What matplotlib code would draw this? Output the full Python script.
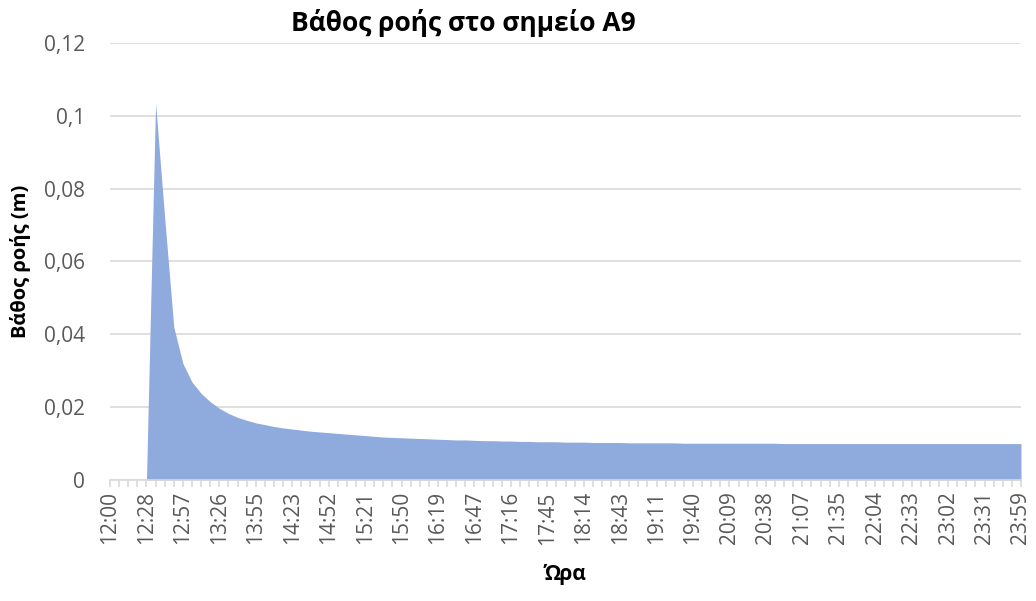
import matplotlib.pyplot as plt
import numpy as np

plt.rcParams['font.family'] = ['Open Sans', 'DejaVu Sans']

# flow depth (m) at point A9, one value every ~7.2 min from 12:00 to 23:59
depth = [0, 0, 0, 0, 0, 0.1035, 0.072, 0.042, 0.032, 0.0269,
         0.0238, 0.0215, 0.0197, 0.0183, 0.0172, 0.0164, 0.0157, 0.0152, 0.0147, 0.0143,
         0.0140, 0.0137, 0.0134, 0.0132, 0.0130, 0.0128, 0.0126, 0.0124, 0.0122, 0.0120,
         0.0118, 0.0117, 0.0116, 0.0115, 0.0114, 0.0113, 0.0112, 0.0111, 0.0110, 0.0110,
         0.0109, 0.0108, 0.0108, 0.0107, 0.0107, 0.0106, 0.0106, 0.0105, 0.0105, 0.0105,
         0.0104, 0.0104, 0.0104, 0.0103, 0.0103, 0.0103, 0.0103, 0.0102, 0.0102, 0.0102,
         0.0102, 0.0102, 0.0102, 0.0101, 0.0101, 0.0101, 0.0101, 0.0101, 0.0101, 0.0101,
         0.0101, 0.0101, 0.0101, 0.0101, 0.0100, 0.0100, 0.0100, 0.0100, 0.0100, 0.0100,
         0.0100, 0.0100, 0.0100, 0.0100, 0.0100, 0.0100, 0.0100, 0.0100, 0.0100, 0.0100,
         0.0100, 0.0100, 0.0100, 0.0100, 0.0100, 0.0100, 0.0100, 0.0100, 0.0100, 0.0100,
         0.0100]

# every 4th time stamp is labelled
time_labels = ['12:00', '12:28', '12:57', '13:26', '13:55', '14:23', '14:52', '15:21',
               '15:50', '16:19', '16:47', '17:16', '17:45', '18:14', '18:43', '19:11',
               '19:40', '20:09', '20:38', '21:07', '21:35', '22:04', '22:33', '23:02',
               '23:31', '23:59']

y_ticks = [0, 0.02, 0.04, 0.06, 0.08, 0.1, 0.12]
y_tick_labels = ['0', '0,02', '0,04', '0,06', '0,08', '0,1', '0,12']

grey = '#595959'
x = np.arange(len(depth))

fig = plt.figure(figsize=(10.36, 6.01), dpi=100)
ax = fig.add_axes([0.1062, 0.2013, 0.8793, 0.7272])

ax.fill_between(x, depth, 0, color='#8FAADC', linewidth=0, zorder=2)

ax.set_xlim(0, len(depth) - 1)
ax.set_ylim(0, 0.12)
ax.set_yticks(y_ticks)
ax.set_yticklabels(y_tick_labels)
ax.set_xticks(x[::4])
ax.set_xticklabels(time_labels, rotation=90)
ax.set_xticks(x, minor=True)

ax.grid(axis='y', color='#d9d9d9', linewidth=1.2, zorder=0)
for s in ['top', 'right', 'left']:
    ax.spines[s].set_visible(False)
ax.spines['bottom'].set_color('#d9d9d9')
ax.spines['bottom'].set_linewidth(1.2)

ax.tick_params(axis='y', length=0, labelsize=15, labelcolor=grey, pad=18)
ax.tick_params(axis='x', which='both', length=5, color='#d9d9d9', width=1.2,
               labelsize=15, labelcolor=grey, pad=3)

ax.set_ylabel('Βάθος ροής (m)', fontsize=14.5, fontweight='bold', labelpad=9.5)
ax.set_xlabel('Ώρα', fontsize=15, fontweight='bold', labelpad=14)
fig.text(0.447, 0.962, 'Βάθος ροής στο σημείο Α9', ha='center', va='center',
         fontsize=19, fontweight='bold')

fig.savefig('out.png', dpi=100)
